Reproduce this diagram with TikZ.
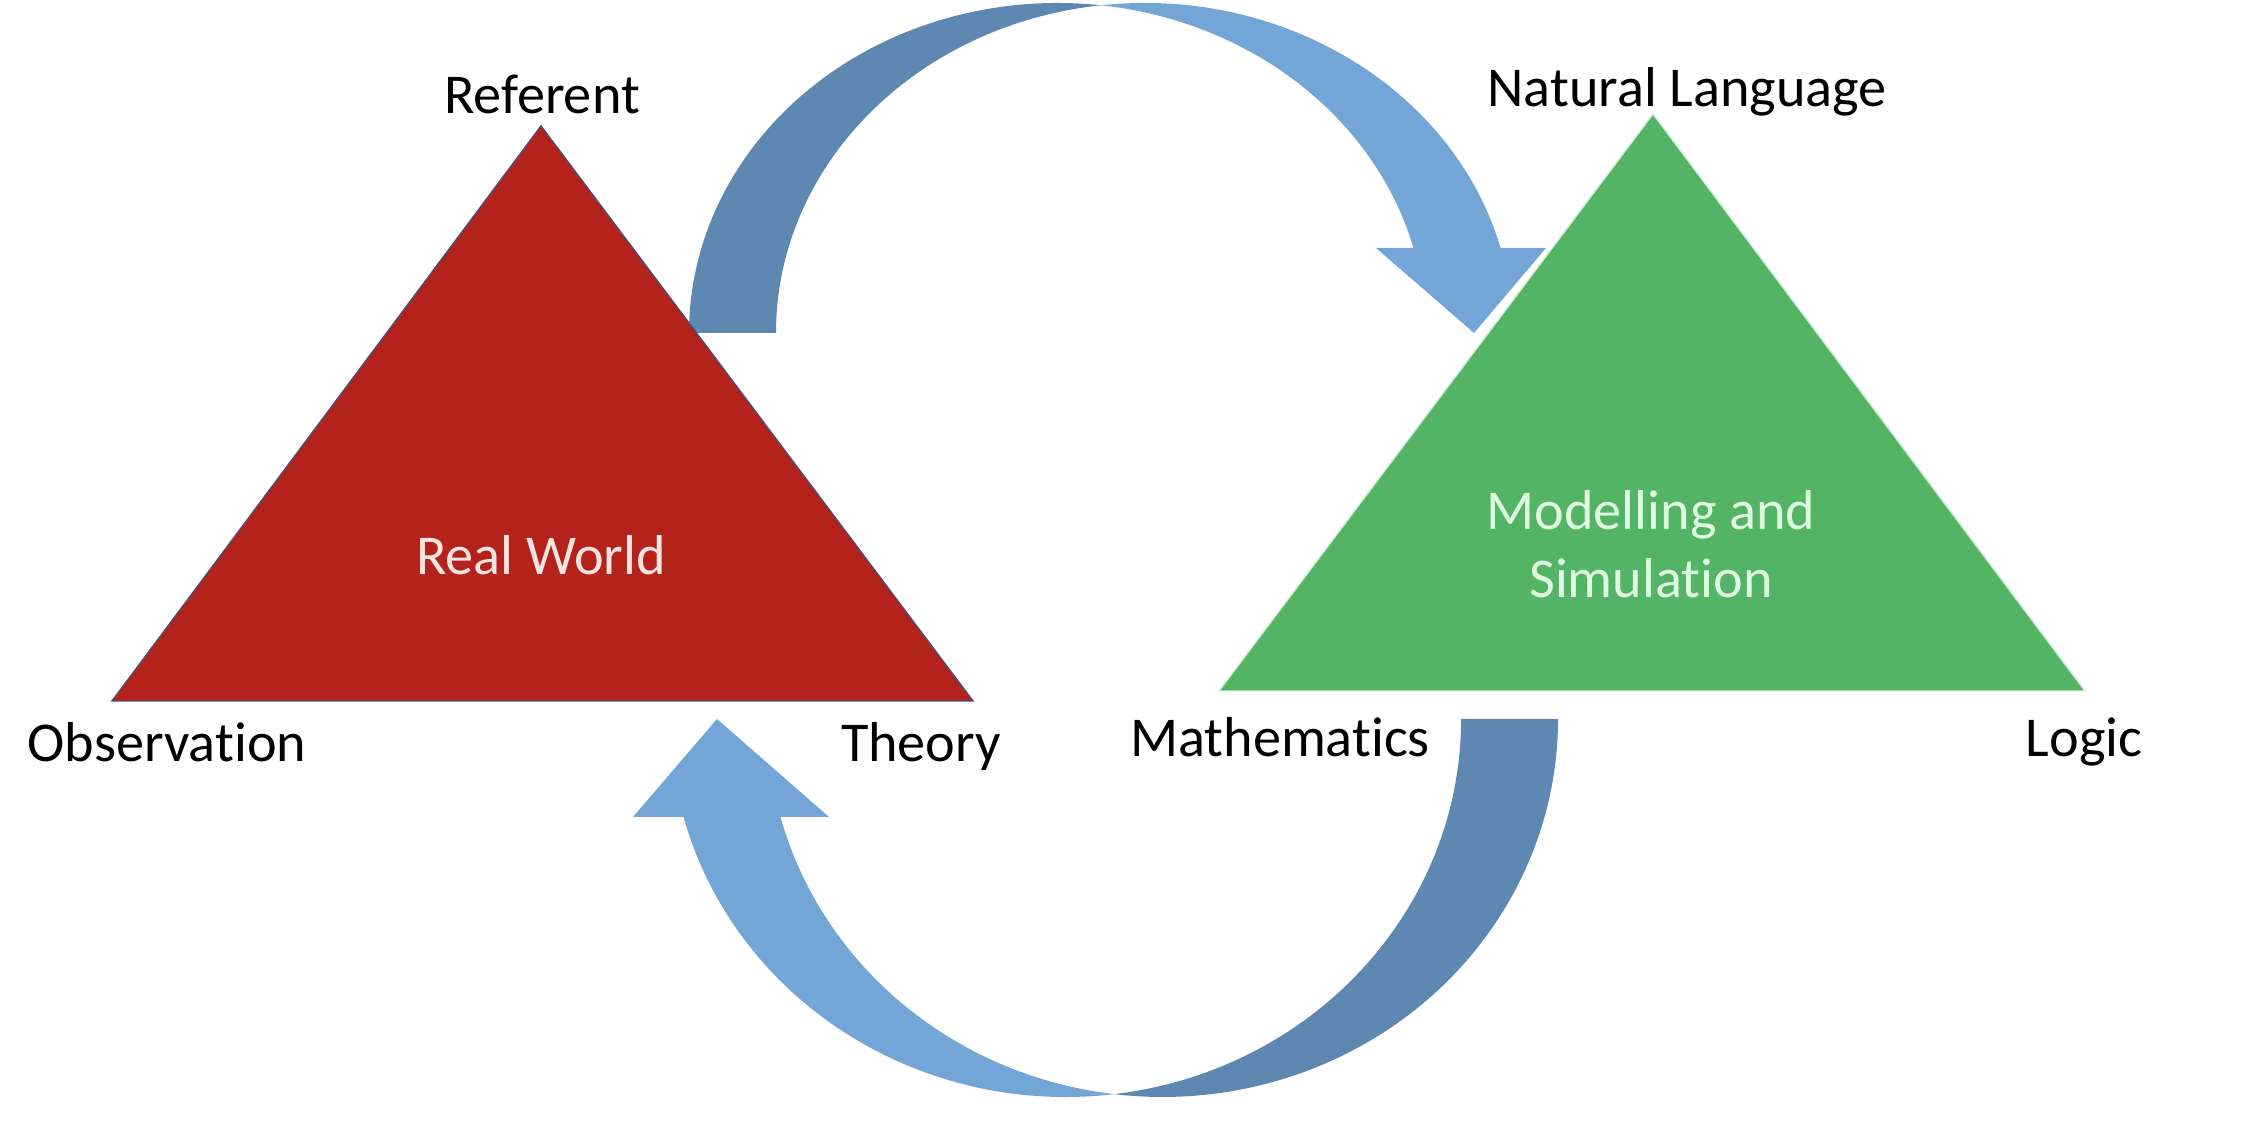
\documentclass[tikz,border=0pt]{standalone}
\usepackage{fontspec}
\setmainfont{Carlito}[Ligatures={CommonOff}]
\definecolor{realred}{RGB}{179,35,27}
\definecolor{simgreen}{RGB}{84,180,101}
\definecolor{arrowdark}{RGB}{94,136,178}
\definecolor{arrowlight}{RGB}{116,165,215}
\definecolor{redtext}{RGB}{250,228,226}
\definecolor{greentext}{RGB}{222,250,224}
\begin{document}
\begin{tikzpicture}[
	lbl/.style={font=\fontsize{16}{19.4}\selectfont, anchor=base},
	inlbl/.style={lbl, align=center}]
	\useasboundingbox (0,0) rectangle (22.44,11.30);
	% upper arrow, real world -> modelling
	\fill[arrowdark] (6.89,7.97) arc[start angle=180, end angle=83.22, x radius=3.685, y radius=3.30] arc[start angle=96.78, end angle=180, x radius=3.685, y radius=3.30] -- cycle;
	\fill[arrowlight] (11.01,11.247) arc[start angle=96.78, end angle=14.93, x radius=3.685, y radius=3.30] -- (15.46,8.82) -- (14.74,7.97) -- (13.76,8.82) -- (14.135,8.82) arc[start angle=14.93, end angle=83.22, x radius=3.685, y radius=3.30] -- cycle;
	% lower arrow, modelling -> real world
	\fill[arrowdark] (15.58,4.11) arc[start angle=0, end angle=-97.04, x radius=3.955, y radius=3.78] arc[start angle=-82.96, end angle=0, x radius=3.955, y radius=3.78] -- cycle;
	\fill[arrowlight] (11.14,0.3585) arc[start angle=-82.96, end angle=-164.97, x radius=3.955, y radius=3.78] -- (6.33,3.13) -- (7.17,4.11) -- (8.29,3.13) -- (7.805,3.13) arc[start angle=-164.97, end angle=-97.04, x radius=3.955, y radius=3.78] -- cycle;
	% triangles
	\filldraw[fill=realred, draw=black!60!blue!40!gray, line width=0.4pt] (1.12,4.29) -- (5.41,10.04) -- (9.73,4.29) -- cycle;
	\filldraw[fill=simgreen, draw=white!75!simgreen, line width=0.4pt] (12.19,4.39) -- (16.53,10.16) -- (20.85,4.39) -- cycle;
	\node[inlbl, text=redtext] (realworld) at (5.41,5.55) {Real World};
	\node[inlbl, text=greentext] (modsim) at (16.51,5.32) {Modelling and\\Simulation};
	% corner labels
	\node[lbl] (referent) at (5.42,10.16) {Referent};
	\node[lbl] (natlang) at (16.87,10.23) {Natural Language};
	\node[lbl] (obs) at (1.67,3.68) {Observation};
	\node[lbl] (theory) at (9.21,3.68) {Theory};
	\node[lbl] (maths) at (12.80,3.73) {Mathematics};
	\node[lbl] (logic) at (20.84,3.73) {Logic};
\end{tikzpicture}
\end{document}
